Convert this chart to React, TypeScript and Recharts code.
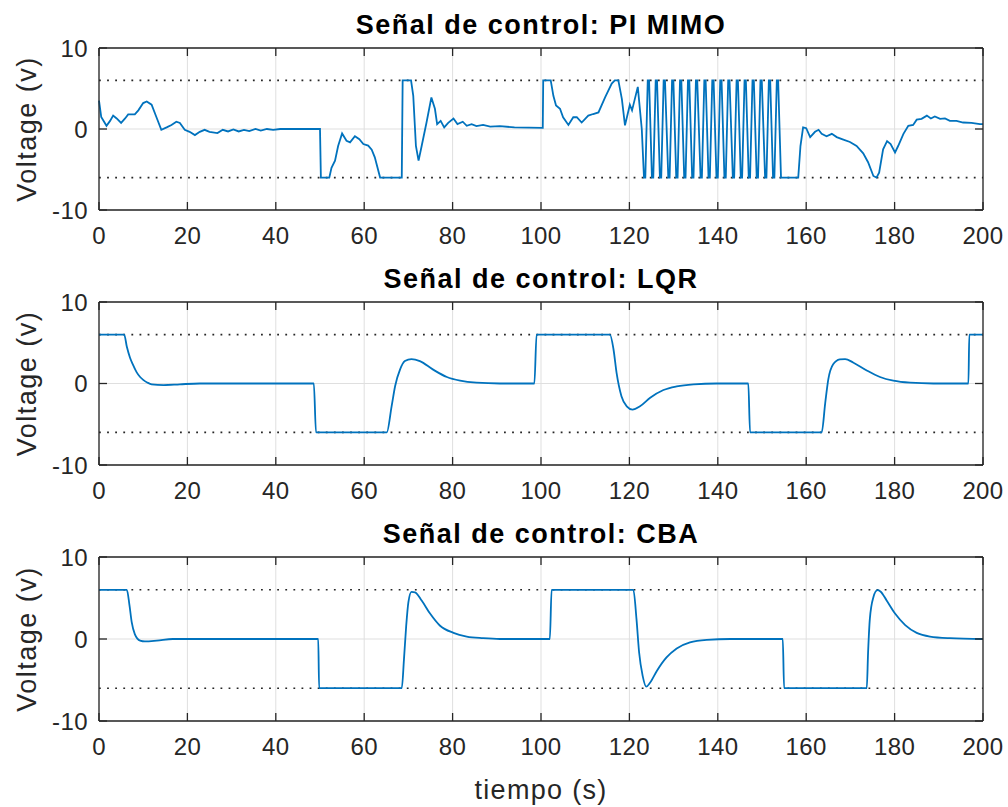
import { LineChart, Line, XAxis, YAxis, CartesianGrid, ReferenceLine } from 'recharts'

const xTicks = [0, 20, 40, 60, 80, 100, 120, 140, 160, 180, 200]
const yTicks = [-10, 0, 10]
const satLevels = [6, -6]
const titles = ['Señal de control: PI MIMO', 'Señal de control: LQR', 'Señal de control: CBA']

// PI MIMO
const piTime = [
  0, 0.5, 1.7, 2.5, 3.2, 4.0, 5.0, 5.9, 6.6, 8.1, 8.9, 10.0, 10.8, 11.9, 13.0, 14.1, 15.3, 16.4, 17.5, 18.3,
  19.4, 20.5, 21.7, 22.8, 23.9, 25.0, 26.8, 28.0, 29.2, 30.4, 31.6, 32.8, 34.0, 35.4, 36.6, 38.0, 39.4, 41, 50.0,
  50.2, 52.1, 52.6, 53.4, 54.1, 55.0, 56.0, 56.8, 57.9, 58.9, 59.8, 60.9, 61.7, 62.4, 63.6, 68.5, 68.7, 70.6,
  71.1, 71.7, 72.3, 73.0, 74.1, 75.2, 76.0, 76.5, 77.3, 78.1, 79.0, 80.2, 81.1, 82.3, 83.2, 84.3, 85.4, 86.9,
  88.5, 90.7, 94, 100.4, 100.5, 102.2, 102.8, 103.4, 104.3, 105.0, 106.2, 107.3, 108.1, 109.2, 110.7, 111.8,
  113.0, 114.5, 116.0, 116.7, 117.5, 118.3, 119.0, 120.1, 120.6, 121.9, 122.8,
  123.3, 123.6, 124.15, 124.45, 125.1, 125.4, 125.95, 126.25, 126.9, 127.2, 127.75, 128.05,
  128.8, 129.1, 129.65, 129.95, 130.6, 130.9, 131.45, 131.75, 132.4, 132.7, 133.25, 133.55,
  134.2, 134.5, 135.05, 135.35, 136.1, 136.4, 136.95, 137.25, 137.9, 138.2, 138.75, 139.05,
  139.7, 140.0, 140.55, 140.85, 141.5, 141.8, 142.35, 142.65, 143.4, 143.7, 144.25, 144.55,
  145.2, 145.5, 146.05, 146.35, 147.0, 147.3, 147.85, 148.15, 148.8, 149.1, 149.65, 149.95,
  150.7, 151.0, 151.55, 151.85, 152.5, 152.8, 153.35, 153.65, 154.3,
  158.2, 158.7, 159.3, 160.0, 160.9, 162.0, 162.8, 163.5, 164.6, 165.8, 166.9, 168.4, 169.9, 171.4, 172.9,
  174.0, 175.2, 175.9, 176.5, 177.4, 178.3, 179.1, 180.1, 180.8, 182.0, 183.1, 184.2, 185.0, 186.1, 187.3,
  188.2, 189.1, 190.3, 191.4, 192.5, 194.0, 195.5, 197.4, 199.3, 200,
]
const piVolt = [
  3.5, 1.5, 0.4, 1.0, 1.65, 1.3, 0.75, 1.3, 1.8, 1.8, 2.3, 3.2, 3.4, 3.0, 1.45, -0.1, 0.2, 0.5, 0.9, 0.75,
  -0.1, -0.35, -0.75, -0.35, -0.1, -0.35, -0.5, -0.1, -0.3, -0.05, -0.3, -0.1, -0.25, 0, -0.2, 0, -0.1, 0, 0,
  -6, -6, -4.8, -3.9, -2.1, -0.55, -1.45, -1.65, -0.9, -1.25, -1.85, -2.05, -2.55, -3.5, -6, -6, 6, 6,
  4.1, -2.1, -3.9, -2.1, 0.8, 3.9, 2.5, 0.6, 1.0, 0.2, 0.75, 1.3, 0.6, 0.9, 0.4, 0.6, 0.35, 0.5,
  0.3, 0.35, 0.2, 0.15, 6, 6, 4.1, 2.9, 2.5, 1.45, 0.5, 1.45, 1.45, 0.8, 1.65, 1.85,
  2.05, 3.9, 5.6, 6, 6, 3.7, 0.45, 3.0, 2.3, 5.2, 0,
  -6, -6, 6, 6, -6, -6, 6, 6, -6, -6, 6, 6,
  -6, -6, 6, 6, -6, -6, 6, 6, -6, -6, 6, 6,
  -6, -6, 6, 6, -6, -6, 6, 6, -6, -6, 6, 6,
  -6, -6, 6, 6, -6, -6, 6, 6, -6, -6, 6, 6,
  -6, -6, 6, 6, -6, -6, 6, 6, -6, -6, 6, 6,
  -6, -6, 6, 6, -6, -6, 6, 6, -6,
  -6, -2.1, 0.2, 0.1, -1.0, -0.35, -0.1, -0.6, -0.9, -0.6, -1.0, -1.3, -1.6, -2.1, -3.0,
  -4.1, -5.8, -6, -5.4, -2.5, -1.5, -1.85, -2.9, -2.1, -0.6, 0.4, 0.5, 1.15, 1.25, 1.65,
  1.3, 1.55, 1.25, 1.3, 1.0, 1.0, 0.8, 0.75, 0.6, 0.6,
]

// LQR
const lqrTime = [
  0, 5.7, 6.3, 7.0, 7.6, 8.5, 9.3, 10.0, 11.0, 11.9, 14.6, 18.3, 22.8, 48.6, 49.1, 65.1, 66.2, 67.0, 68.1,
  69.2, 70.7, 72.6, 75.6, 78.7, 81.7, 85.4, 90.7, 98.5, 99.0, 115.6, 116.4, 117.1, 118.2, 119.4, 120.7, 122.4,
  124.7, 127.7, 130.7, 134.5, 139.7, 146.9, 147.3, 163.5, 164.3, 165.0, 166.1, 167.6, 168.8, 170.7, 173.7,
  176.7, 179.7, 183.5, 188.8, 196.7, 196.9, 200,
]
const lqrVolt = [
  6, 6, 4.5, 3.2, 2.4, 1.4, 0.8, 0.45, 0.1, -0.1, -0.2, -0.1, 0, 0, -6, -6, -2.8, -0.3, 1.7,
  2.75, 3.0, 2.75, 1.7, 0.8, 0.35, 0.1, 0, 0, 6, 6, 4.2, 1.3, -1.55, -2.8, -3.2, -2.8,
  -1.75, -0.8, -0.35, -0.1, 0, 0, -6, -6, -2.4, 0.5, 2.35, 2.95, 3.0, 2.55, 1.6,
  0.8, 0.35, 0.1, 0, 0, 6, 6,
]

// CBA
const cbaTime = [
  0, 6.3, 6.9, 7.4, 8.1, 9.3, 10.4, 13.1, 16.7, 49.6, 49.8, 68.5, 69.0, 69.5, 70.0, 70.7, 71.5, 73.0, 74.9,
  77.1, 80.2, 83.2, 86.9, 90.7, 102.0, 102.4, 120.9, 121.6, 122.2, 123.0, 123.8, 124.7, 126.2, 128.4, 130.7,
  133.7, 137.5, 142.8, 154.7, 155.0, 173.7, 174.0, 174.4, 175.2, 176.1, 176.8, 178.2, 180.1, 182.4, 185.0,
  188.0, 192.5, 200,
]
const cbaVolt = [
  6, 6, 4.1, 2.05, 0.6, -0.2, -0.3, -0.2, 0, 0, -6, -6, -2.45, 1.6, 4.5, 5.75, 5.7, 4.7, 3.1,
  1.65, 0.75, 0.3, 0.1, 0, 0, 6, 6, 2.45, -1.65, -4.5, -5.8, -5.3, -3.9, -2.25, -1.15,
  -0.4, -0.1, 0, 0, -6, -6, -1.65, 2.45, 5.1, 5.95, 5.8, 4.7, 3.1, 1.7, 0.75,
  0.3, 0.1, 0,
]

const toPoints = (t: number[], v: number[]) => t.map((x, i) => ({ t: x, v: v[i] }))

const AXIS = '#262626'
const FONT = '"Liberation Sans", Arial, Helvetica, sans-serif'

type PanelProps = {
  title: string
  data: { t: number; v: number }[]
  curve: 'linear' | 'monotone'
  top: number
  height: number
  xAxisHeight: number
  xLabel?: string
}

function Panel({ title, data, curve, top, height, xAxisHeight, xLabel }: PanelProps) {
  const tickStyle = { fill: AXIS, fontSize: 24, letterSpacing: 0.4 }
  return (
    <div style={{ position: 'absolute', left: 0, top }}>
      <LineChart width={1008} height={height} margin={{ top: 47, right: 24, bottom: 0, left: 0 }}>
        <CartesianGrid stroke="#dfdfdf" strokeWidth={1} />
        <XAxis
          type="number"
          dataKey="t"
          domain={[0, 200]}
          ticks={xTicks}
          interval={0}
          height={xAxisHeight}
          tickSize={-8}
          tickMargin={25}
          axisLine={{ stroke: AXIS, strokeWidth: 1.3 }}
          tickLine={{ stroke: AXIS, strokeWidth: 1.3 }}
          tick={tickStyle}
          label={
            xLabel
              ? (p: any) => (
                  <text
                    x={p.viewBox.x + p.viewBox.width / 2}
                    y={p.viewBox.y + 78}
                    textAnchor="middle"
                    fontSize={27}
                    letterSpacing={1.3}
                    fill={AXIS}
                  >
                    {xLabel}
                  </text>
                )
              : undefined
          }
        />
        <XAxis
          xAxisId="top"
          orientation="top"
          type="number"
          dataKey="t"
          domain={[0, 200]}
          allowDataOverflow
          ticks={xTicks}
          interval={0}
          height={1}
          tickSize={-8}
          axisLine={{ stroke: AXIS, strokeWidth: 1.3 }}
          tickLine={{ stroke: AXIS, strokeWidth: 1.3 }}
          tick={() => <g />}
          label={(p: any) => (
            <text
              x={p.viewBox.x + p.viewBox.width / 2}
              y={p.viewBox.y + p.viewBox.height - 14}
              textAnchor="middle"
              fontSize={27}
              fontWeight="bold"
              letterSpacing={1.5}
              fill="#000"
            >
              {title}
            </text>
          )}
        />
        <YAxis
          type="number"
          domain={[-10, 10]}
          ticks={yTicks}
          interval={0}
          width={99}
          tickSize={-8}
          tickMargin={19}
          axisLine={{ stroke: AXIS, strokeWidth: 1.3 }}
          tickLine={{ stroke: AXIS, strokeWidth: 1.3 }}
          tick={tickStyle}
          label={(p: any) => {
            const cx = p.viewBox.x + 36
            const cy = p.viewBox.y + p.viewBox.height / 2
            return (
              <text
                x={cx}
                y={cy}
                transform={`rotate(-90, ${cx}, ${cy})`}
                textAnchor="middle"
                fontSize={27}
                letterSpacing={1.5}
                fill={AXIS}
              >
                Voltage (v)
              </text>
            )
          }}
        />
        <YAxis
          yAxisId="right"
          orientation="right"
          type="number"
          domain={[-10, 10]}
          allowDataOverflow
          ticks={yTicks}
          interval={0}
          width={1}
          tickSize={-8}
          axisLine={{ stroke: AXIS, strokeWidth: 1.3 }}
          tickLine={{ stroke: AXIS, strokeWidth: 1.3 }}
          tick={() => <g />}
        />
        {satLevels.map((lvl) => (
          <ReferenceLine key={lvl} y={lvl} stroke={AXIS} strokeWidth={1.6} strokeDasharray="1.8 6.3" />
        ))}
        <Line
          data={data}
          dataKey="v"
          type={curve}
          stroke="#0072BD"
          strokeWidth={1.8}
          dot={false}
          activeDot={false}
          isAnimationActive={false}
        />
      </LineChart>
    </div>
  )
}

export default function App() {
  return (
    <div
      style={{
        position: 'absolute',
        left: 0,
        top: 0,
        width: 1008,
        height: 807,
        background: '#fff',
        fontFamily: FONT,
      }}
    >
      <Panel title={titles[0]} data={toPoints(piTime, piVolt)} curve="linear" top={0} height={254} xAxisHeight={44} />
      <Panel title={titles[1]} data={toPoints(lqrTime, lqrVolt)} curve="monotone" top={254} height={255} xAxisHeight={44} />
      <Panel
        title={titles[2]}
        data={toPoints(cbaTime, cbaVolt)}
        curve="monotone"
        top={509}
        height={298}
        xAxisHeight={86}
        xLabel="tiempo (s)"
      />
    </div>
  )
}
